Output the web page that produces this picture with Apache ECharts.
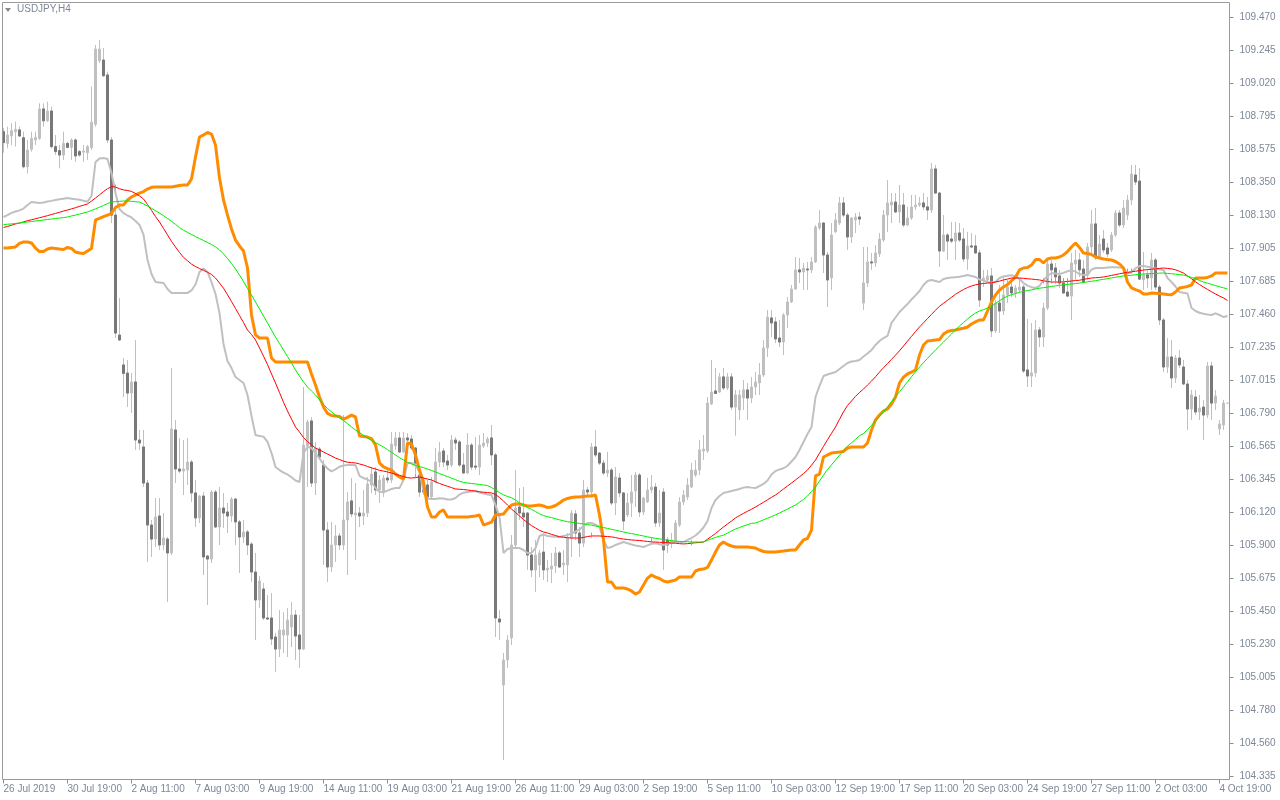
<!DOCTYPE html>
<html><head><meta charset="utf-8">
<script src="https://cdn.jsdelivr.net/npm/echarts@6/dist/echarts.min.js"></script>
<style>html,body{margin:0;padding:0;background:#fff}#c{width:1280px;height:800px}</style>
</head><body><div id="c"></div>
<script>
const symbolName = 'USDJPY,H4';
const xTickLabels = ['26 Jul 2019','30 Jul 19:00','2 Aug 11:00','7 Aug 03:00','9 Aug 19:00','14 Aug 11:00','19 Aug 03:00','21 Aug 19:00','26 Aug 11:00','29 Aug 03:00','2 Sep 19:00','5 Sep 11:00','10 Sep 03:00','12 Sep 19:00','17 Sep 11:00','20 Sep 03:00','24 Sep 19:00','27 Sep 11:00','2 Oct 03:00','4 Oct 19:00'];
const yTickLabels = ['104.335','104.560','104.780','105.005','105.230','105.450','105.675','105.900','106.120','106.345','106.565','106.790','107.015','107.235','107.460','107.685','107.905','108.130','108.350','108.575','108.795','109.020','109.245','109.470'];

const opens = [
108.694,108.615,108.665,108.694,108.706,108.653,108.457,108.575,108.638,108.649,
108.848,108.768,108.834,108.593,108.566,108.536,108.615,108.588,108.638,108.559,
108.555,108.552,108.586,108.744,109.174,109.179,109.078,108.638,108.130,107.318,
107.116,107.061,106.926,107.001,106.608,106.561,106.317,106.033,105.938,106.094,
105.898,105.938,105.844,106.676,106.412,106.398,106.405,106.459,106.250,106.081,
106.229,105.823,105.803,106.256,106.020,106.148,106.121,106.094,106.209,106.054,
105.952,105.986,105.904,105.715,105.526,105.600,105.404,105.404,105.275,105.194,
105.289,105.289,105.343,105.424,105.289,105.194,106.568,106.737,106.317,106.547,
106.439,105.999,105.749,105.898,105.959,105.898,106.067,106.196,106.101,106.114,
106.094,106.114,106.304,106.392,106.270,106.250,106.351,106.338,106.568,106.622,
106.527,106.622,106.615,106.554,106.371,106.304,106.304,106.223,106.324,106.459,
106.534,106.466,106.439,106.608,106.595,106.439,106.385,106.574,106.432,106.425,
106.568,106.588,106.622,106.507,105.397,104.951,105.120,105.269,105.898,106.155,
106.114,106.114,105.830,105.729,105.763,105.850,105.729,105.735,105.756,105.844,
105.763,105.763,105.945,106.108,105.979,105.911,106.270,106.256,106.561,106.520,
106.452,106.385,106.405,106.182,106.351,106.250,106.101,106.182,106.263,106.371,
106.121,106.189,106.270,106.290,106.047,106.256,105.932,105.911,105.918,106.033,
106.189,106.222,106.290,106.371,106.405,106.534,106.534,106.852,106.940,106.933,
107.035,106.960,107.035,106.831,106.811,106.892,106.947,106.892,106.967,106.994,
107.048,107.231,107.434,107.407,107.298,107.271,107.454,107.542,107.630,107.759,
107.745,107.765,107.759,107.813,108.043,108.076,107.860,107.704,108.016,108.076,
108.212,108.130,107.982,108.097,108.117,107.535,107.671,107.813,107.806,107.867,
107.961,108.130,108.198,108.218,108.151,108.198,108.063,108.110,108.185,108.198,
108.212,108.185,108.164,108.442,108.279,107.887,107.995,107.968,107.954,108.009,
107.968,107.833,107.921,107.921,107.874,107.691,107.691,107.718,107.346,107.535,
107.481,107.589,107.643,107.603,107.623,107.643,107.082,107.041,107.062,107.353,
107.305,107.501,107.799,107.772,107.718,107.670,107.609,107.582,107.799,107.826,
107.765,107.725,107.914,108.070,107.846,107.968,107.907,107.894,107.995,108.144,
108.063,108.130,108.232,108.401,108.360,107.691,107.725,107.704,107.826,107.643,
107.420,107.102,107.170,107.028,107.163,107.102,106.987,106.818,106.899,106.798,
106.831,106.777,107.109,106.858,106.683,106.710,106.858];
const highs = [
108.719,108.728,108.751,108.762,108.728,108.694,108.638,108.694,108.694,108.886,
108.886,108.897,108.863,108.672,108.604,108.694,108.626,108.649,108.649,108.570,
108.604,108.604,109.000,109.281,109.314,109.260,109.100,108.658,108.164,107.569,
107.163,107.149,107.061,107.285,106.676,106.676,106.338,106.067,106.216,106.216,
106.114,105.952,107.095,106.744,106.622,106.608,106.622,106.473,106.338,106.236,
106.256,105.830,106.270,106.270,106.290,106.249,106.182,106.222,106.216,106.067,
106.067,105.999,105.918,105.844,105.688,105.641,105.559,105.573,105.302,105.458,
105.444,105.471,105.512,105.458,105.424,106.967,106.744,106.764,106.595,106.561,
106.473,106.054,106.054,106.033,105.979,106.777,106.256,106.351,106.317,106.155,
106.270,106.358,106.425,106.425,106.371,106.371,106.425,106.662,106.662,106.662,
106.662,106.655,106.642,106.561,106.425,106.338,106.338,106.358,106.554,106.595,
106.554,106.507,106.642,106.628,106.608,106.520,106.655,106.588,106.628,106.642,
106.655,106.628,106.710,106.520,105.458,105.167,105.289,105.965,106.405,106.283,
106.290,106.121,105.884,105.932,105.864,105.979,105.796,105.844,105.884,105.857,
105.864,105.979,106.135,106.135,106.020,106.338,106.290,106.588,106.676,106.527,
106.473,106.527,106.419,106.425,106.385,106.256,106.249,106.371,106.392,106.385,
106.222,106.351,106.371,106.317,106.270,106.283,105.952,105.979,106.067,106.222,
106.270,106.351,106.452,106.473,106.608,106.642,106.899,107.150,107.095,107.061,
107.095,107.061,107.061,106.947,106.947,107.014,106.994,107.035,107.068,107.129,
107.285,107.488,107.488,107.440,107.420,107.467,107.576,107.657,107.846,107.840,
107.806,107.813,107.846,108.063,108.164,108.083,107.880,108.076,108.144,108.252,
108.252,108.144,108.117,108.144,108.151,107.914,107.914,107.874,107.927,108.009,
108.164,108.367,108.279,108.279,108.333,108.279,108.185,108.266,108.266,108.252,
108.279,108.252,108.482,108.469,108.286,108.130,108.009,108.083,108.083,108.076,
108.043,108.016,108.009,107.995,107.894,107.759,107.759,107.772,107.555,107.657,
107.711,107.691,107.677,107.657,107.691,107.657,107.427,107.400,107.420,107.373,
107.535,107.826,107.826,107.806,107.759,107.704,107.704,107.874,107.894,107.874,
107.826,107.941,108.164,108.178,107.995,108.029,107.941,108.016,108.164,108.164,
108.232,108.266,108.469,108.469,108.448,107.880,107.759,107.874,107.840,107.657,
107.434,107.298,107.285,107.183,107.217,107.150,107.014,106.947,106.947,106.913,
106.879,107.136,107.136,106.947,106.744,106.879,106.858];
const lows = [
108.552,108.582,108.604,108.593,108.660,108.446,108.412,108.559,108.604,108.638,
108.728,108.760,108.582,108.536,108.446,108.503,108.582,108.503,108.491,108.525,
108.491,108.503,108.570,108.728,109.159,109.064,108.618,108.076,107.298,107.278,
106.899,106.832,106.791,106.541,106.541,106.290,105.783,105.817,105.884,105.864,
105.864,105.512,105.830,106.317,106.385,106.236,106.304,106.189,106.020,106.047,
105.695,105.492,105.776,106.013,105.898,106.013,105.979,106.054,105.898,105.708,
105.911,105.830,105.647,105.255,105.472,105.390,105.390,105.221,105.039,105.140,
105.167,105.140,105.208,105.120,105.066,105.187,106.290,106.290,106.236,106.473,
105.763,105.647,105.715,105.783,105.864,105.864,105.695,106.087,105.796,106.020,
106.033,106.087,106.249,106.236,106.182,106.223,106.317,106.317,106.541,106.520,
106.520,106.574,106.541,106.385,106.223,106.236,106.209,106.202,106.317,106.425,
106.425,106.405,106.425,106.541,106.425,106.378,106.378,106.405,106.405,106.371,
106.554,106.561,106.439,105.275,105.255,104.443,105.066,105.221,105.884,106.067,
106.020,105.729,105.681,105.580,105.681,105.661,105.647,105.640,105.708,105.742,
105.695,105.647,105.817,105.932,105.817,105.884,106.236,106.236,106.493,106.439,
106.371,106.358,106.168,106.101,106.222,105.999,106.087,106.087,106.155,106.087,
106.101,106.182,106.249,106.020,106.020,105.729,105.844,105.877,105.911,106.020,
106.168,106.202,106.283,106.358,106.371,106.473,106.520,106.845,106.919,106.926,
106.947,106.947,106.811,106.637,106.744,106.811,106.744,106.858,106.913,106.913,
107.035,107.170,107.305,107.264,107.237,107.183,107.366,107.535,107.623,107.670,
107.623,107.623,107.738,107.806,108.029,107.738,107.508,107.623,108.009,108.063,
108.117,107.894,107.941,108.009,108.063,107.488,107.644,107.759,107.779,107.846,
107.948,108.016,108.076,108.144,108.076,108.049,108.056,108.097,108.164,108.185,
108.164,108.097,108.144,108.273,107.779,107.880,107.826,107.941,107.826,107.948,
107.813,107.759,107.907,107.867,107.508,107.644,107.670,107.305,107.332,107.332,
107.454,107.535,107.576,107.569,107.609,107.062,106.967,106.967,107.035,107.237,
107.237,107.488,107.691,107.684,107.637,107.596,107.576,107.420,107.691,107.711,
107.670,107.691,107.874,107.826,107.840,107.874,107.846,107.880,107.982,108.049,
108.043,108.097,108.198,108.333,107.691,107.623,107.637,107.623,107.623,107.386,
107.068,107.062,106.960,106.994,107.095,106.980,106.676,106.744,106.777,106.744,
106.608,106.757,106.744,106.811,106.642,106.676,106.858];
const closes = [
108.620,108.672,108.701,108.710,108.665,108.457,108.570,108.649,108.656,108.848,
108.768,108.834,108.593,108.559,108.536,108.615,108.588,108.638,108.530,108.536,
108.563,108.593,108.758,109.253,109.253,109.073,108.638,108.130,107.332,107.285,
107.059,106.926,107.001,106.608,106.588,106.317,106.033,105.938,106.087,105.898,
105.945,105.844,106.683,106.412,106.398,106.412,106.459,106.250,106.081,106.229,
105.817,105.803,106.256,106.020,106.148,106.114,106.094,106.209,106.054,105.952,
105.986,105.898,105.715,105.526,105.654,105.404,105.397,105.262,105.194,105.323,
105.323,105.390,105.424,105.282,105.194,106.574,106.730,106.317,106.554,106.493,
105.999,105.749,105.898,105.959,105.898,106.067,106.189,106.108,106.114,106.094,
106.114,106.311,106.378,106.270,106.338,106.351,106.338,106.581,106.622,106.527,
106.622,106.608,106.554,106.452,106.256,106.256,106.223,106.324,106.459,106.527,
106.459,106.439,106.608,106.588,106.439,106.385,106.574,106.425,106.425,106.574,
106.588,106.615,106.507,105.404,105.377,105.120,105.255,105.898,106.148,106.114,
106.087,105.830,105.729,105.830,105.844,105.729,105.742,105.756,105.844,105.749,
105.776,105.945,106.114,105.979,105.911,106.270,106.256,106.561,106.507,106.452,
106.385,106.405,106.182,106.358,106.250,106.060,106.182,106.256,106.371,106.121,
106.216,106.270,106.290,106.047,106.114,105.864,105.898,105.932,106.047,106.189,
106.236,106.304,106.405,106.405,106.541,106.547,106.858,106.933,106.923,107.035,
106.960,107.035,106.831,106.913,106.913,106.947,106.892,106.967,107.001,107.048,
107.231,107.440,107.400,107.292,107.271,107.454,107.542,107.630,107.759,107.745,
107.772,107.759,107.813,108.049,108.076,107.860,107.691,107.995,108.097,108.212,
108.130,107.982,108.110,108.117,108.103,107.671,107.813,107.806,107.874,107.968,
108.130,108.212,108.218,108.151,108.198,108.063,108.110,108.185,108.198,108.212,
108.185,108.164,108.442,108.279,107.887,107.995,107.954,107.954,108.009,107.961,
107.833,107.921,107.914,107.874,107.555,107.704,107.718,107.346,107.535,107.481,
107.589,107.643,107.603,107.637,107.643,107.075,107.041,107.062,107.353,107.305,
107.501,107.799,107.759,107.711,107.670,107.603,107.582,107.806,107.826,107.759,
107.677,107.914,108.070,107.846,107.934,107.894,107.867,107.995,108.144,108.063,
108.178,108.232,108.408,108.354,107.697,107.725,107.704,107.826,107.643,107.420,
107.102,107.170,107.028,107.163,107.116,106.987,106.818,106.913,106.798,106.825,
106.777,107.109,106.858,106.906,106.717,106.858,106.858];

const redLine = [
108.046,108.053,108.061,108.070,108.076,108.084,108.092,108.098,108.105,108.112,
108.119,108.126,108.134,108.141,108.149,108.157,108.164,108.172,108.180,108.189,
108.197,108.205,108.225,108.245,108.267,108.289,108.308,108.322,108.320,108.308,
108.300,108.296,108.290,108.276,108.259,108.239,108.201,108.162,108.120,108.083,
108.040,107.996,107.952,107.914,107.877,107.844,107.821,107.798,107.782,107.768,
107.756,107.743,107.728,107.704,107.670,107.635,107.591,107.545,107.498,107.450,
107.403,107.352,107.322,107.285,107.231,107.176,107.119,107.055,106.994,106.929,
106.864,106.804,106.750,106.696,106.662,106.625,106.597,106.576,106.554,106.541,
106.527,106.513,106.500,106.486,106.476,106.465,106.458,106.455,106.453,106.446,
106.439,106.429,106.420,106.412,106.403,106.398,106.392,106.385,106.376,106.369,
106.361,106.353,106.351,106.354,106.358,106.351,106.344,106.338,106.325,106.314,
106.304,106.295,106.286,106.277,106.275,106.273,106.270,106.266,106.263,106.258,
106.255,106.253,106.250,106.240,106.219,106.196,106.168,106.141,106.118,106.094,
106.070,106.049,106.029,106.013,105.997,105.986,105.979,105.970,105.962,105.954,
105.950,105.947,105.945,105.945,105.945,105.949,105.955,105.959,105.959,105.959,
105.957,105.955,105.953,105.948,105.942,105.938,105.935,105.932,105.930,105.928,
105.925,105.922,105.919,105.918,105.916,105.915,105.913,105.911,105.910,105.907,
105.905,105.907,105.910,105.913,105.915,105.918,105.937,105.956,105.976,105.998,
106.020,106.040,106.060,106.081,106.097,106.112,106.126,106.140,106.155,106.171,
106.187,106.204,106.220,106.236,106.256,106.277,106.297,106.317,106.338,106.359,
106.381,106.405,106.438,106.473,106.519,106.565,106.610,106.653,106.696,106.748,
106.799,106.842,106.872,106.903,106.930,106.953,106.980,107.007,107.036,107.068,
107.097,107.125,107.154,107.182,107.212,107.244,107.277,107.309,107.342,107.373,
107.401,107.430,107.458,107.486,107.513,107.533,107.553,107.574,107.594,107.611,
107.626,107.640,107.650,107.658,107.664,107.667,107.670,107.672,107.677,107.683,
107.691,107.697,107.704,107.704,107.704,107.702,107.699,107.697,107.694,107.691,
107.685,107.681,107.677,107.677,107.677,107.678,107.681,107.684,107.687,107.689,
107.695,107.700,107.704,107.706,107.708,107.711,107.716,107.722,107.727,107.733,
107.738,107.742,107.746,107.750,107.754,107.758,107.761,107.764,107.766,107.769,
107.772,107.769,107.766,107.760,107.749,107.738,107.719,107.700,107.678,107.660,
107.643,107.627,107.611,107.596,107.582,107.569,107.552];
const greenLine = [
108.065,108.068,108.070,108.073,108.076,108.080,108.083,108.086,108.090,108.093,
108.097,108.100,108.103,108.107,108.110,108.113,108.117,108.124,108.130,108.137,
108.144,108.151,108.161,108.172,108.183,108.195,108.208,108.218,108.221,108.223,
108.225,108.225,108.223,108.220,108.218,108.205,108.191,108.176,108.159,108.143,
108.126,108.107,108.088,108.067,108.045,108.027,108.013,107.998,107.985,107.971,
107.958,107.944,107.931,107.915,107.894,107.867,107.836,107.802,107.765,107.724,
107.681,107.633,107.589,107.542,107.495,107.447,107.400,107.352,107.305,107.261,
107.217,107.173,107.129,107.082,107.041,107.001,106.967,106.940,106.913,106.880,
106.848,106.821,106.799,106.777,106.758,106.740,106.719,106.697,106.676,106.658,
106.640,106.622,106.605,106.590,106.576,106.561,106.543,106.525,106.507,106.489,
106.473,106.457,106.446,106.436,106.428,106.421,106.412,106.402,106.392,106.381,
106.371,106.361,106.350,106.340,106.329,106.321,106.317,106.314,106.311,106.307,
106.304,106.300,106.287,106.270,106.253,106.237,106.226,106.218,106.202,106.183,
106.168,106.152,106.139,106.124,106.109,106.097,106.089,106.083,106.075,106.068,
106.062,106.055,106.052,106.048,106.044,106.040,106.036,106.032,106.026,106.021,
106.016,106.010,106.004,105.998,105.992,105.986,105.980,105.975,105.970,105.964,
105.959,105.953,105.948,105.943,105.939,105.935,105.931,105.927,105.924,105.922,
105.921,105.920,105.918,105.918,105.918,105.918,105.929,105.940,105.949,105.957,
105.965,105.978,105.993,106.006,106.016,106.026,106.035,106.044,106.047,106.057,
106.068,106.079,106.090,106.101,106.114,106.128,106.141,106.155,106.168,106.187,
106.206,106.229,106.260,106.290,106.331,106.371,106.408,106.440,106.473,106.505,
106.538,106.567,106.589,106.613,106.637,106.652,106.678,106.708,106.737,106.768,
106.800,106.833,106.868,106.902,106.934,106.968,107.002,107.036,107.070,107.102,
107.132,107.160,107.189,107.217,107.244,107.271,107.298,107.325,107.353,107.380,
107.403,107.427,107.449,107.467,107.481,107.490,107.500,107.512,107.532,107.551,
107.568,107.581,107.591,107.599,107.607,107.614,107.619,107.624,107.630,107.635,
107.639,107.643,107.647,107.651,107.655,107.658,107.661,107.664,107.666,107.670,
107.674,107.678,107.682,107.686,107.691,107.695,107.700,107.705,107.709,107.714,
107.718,107.720,107.723,107.726,107.729,107.731,107.733,107.734,107.735,107.737,
107.738,107.735,107.733,107.730,107.727,107.724,107.716,107.708,107.699,107.688,
107.677,107.669,107.661,107.653,107.645,107.638,107.630];
const grayLine = [
108.117,108.130,108.145,108.154,108.162,108.174,108.198,108.218,108.215,108.212,
108.215,108.222,108.226,108.232,108.237,108.241,108.245,108.241,108.237,108.233,
108.227,108.220,108.259,108.489,108.513,108.516,108.509,108.415,108.279,108.171,
108.143,108.127,108.114,108.090,108.063,107.998,107.826,107.731,107.677,107.674,
107.670,107.630,107.603,107.603,107.603,107.603,107.603,107.620,107.660,107.745,
107.768,107.745,107.677,107.596,107.467,107.258,107.143,107.095,107.034,107.014,
106.994,106.913,106.771,106.642,106.635,106.631,106.595,106.520,106.426,106.405,
106.388,106.375,106.356,106.334,106.324,106.520,106.561,106.554,106.520,106.482,
106.444,106.415,106.396,106.409,106.427,106.436,106.439,106.439,106.439,106.365,
106.351,106.341,106.324,106.283,106.256,106.256,106.266,106.277,106.283,106.283,
106.338,106.453,106.453,106.439,106.392,106.263,106.212,106.209,106.209,106.214,
106.212,106.206,106.206,106.216,106.239,106.252,106.256,106.259,106.263,106.253,
106.246,106.240,106.236,106.168,106.087,105.844,105.871,105.877,105.877,105.877,
105.864,105.844,105.844,105.877,105.959,105.969,105.959,105.956,105.953,105.952,
105.959,105.965,105.976,105.989,106.003,106.026,106.047,106.047,106.036,106.020,
105.932,105.877,105.884,105.898,105.908,105.918,105.910,105.901,105.895,105.890,
105.884,105.895,105.906,105.909,105.903,105.898,105.906,105.914,105.918,105.918,
105.918,105.932,105.945,105.962,105.986,106.016,106.060,106.148,106.202,106.229,
106.250,106.256,106.263,106.270,106.277,106.286,106.290,106.286,106.283,106.297,
106.311,106.334,106.375,106.398,106.409,106.417,106.434,106.463,106.493,106.541,
106.595,106.649,106.696,106.899,106.974,107.041,107.051,107.060,107.068,107.089,
107.109,107.129,107.139,107.143,107.150,107.173,107.193,107.217,107.251,107.278,
107.298,107.312,107.400,107.437,107.474,107.501,107.528,107.559,107.587,107.616,
107.657,107.684,107.691,107.684,107.677,107.697,107.704,107.707,107.710,107.712,
107.718,107.724,107.718,107.711,107.694,107.687,107.677,107.673,107.677,107.704,
107.715,107.720,107.723,107.715,107.697,107.670,107.653,107.642,107.637,107.650,
107.691,107.718,107.738,107.735,107.731,107.739,107.750,107.756,107.748,107.731,
107.724,107.724,107.762,107.772,107.772,107.772,107.775,107.777,107.777,107.775,
107.772,107.735,107.745,107.769,107.785,107.785,107.780,107.775,107.769,107.764,
107.758,107.704,107.677,107.647,107.609,107.605,107.599,107.501,107.481,107.469,
107.463,107.458,107.454,107.465,107.454,107.440,107.447];
const orangeLine = [
107.907,107.907,107.911,107.914,107.938,107.948,107.948,107.941,107.907,107.883,
107.883,107.900,107.907,107.904,107.900,107.897,107.911,107.904,107.880,107.873,
107.870,107.887,107.904,108.097,108.107,108.120,108.130,108.141,108.181,108.198,
108.198,108.232,108.252,108.266,108.279,108.289,108.306,108.318,108.320,108.320,
108.320,108.320,108.320,108.325,108.330,108.333,108.333,108.374,108.523,108.658,
108.672,108.689,108.678,108.604,108.381,108.232,108.130,108.036,107.961,107.921,
107.887,107.772,107.454,107.319,107.298,107.298,107.298,107.163,107.136,107.136,
107.136,107.136,107.136,107.136,107.136,107.136,107.136,107.055,106.980,106.899,
106.832,106.788,106.774,106.771,106.767,106.750,106.761,106.777,106.764,106.635,
106.632,106.628,106.618,106.574,106.453,106.426,106.415,106.405,106.378,106.358,
106.344,106.588,106.581,106.507,106.405,106.324,106.155,106.087,106.087,106.121,
106.135,106.087,106.087,106.087,106.087,106.087,106.087,106.091,106.094,106.101,
106.033,106.043,106.053,106.101,106.104,106.108,106.141,106.168,106.175,106.175,
106.168,106.162,106.162,106.165,106.168,106.162,106.151,106.155,106.165,106.182,
106.202,106.213,106.219,106.223,106.223,106.226,106.229,106.229,106.236,106.101,
105.932,105.647,105.647,105.607,105.607,105.607,105.600,105.587,105.566,105.580,
105.627,105.674,105.695,105.681,105.671,105.654,105.647,105.654,105.661,105.681,
105.681,105.681,105.681,105.722,105.732,105.735,105.746,105.796,105.850,105.898,
105.918,105.901,105.891,105.884,105.884,105.884,105.884,105.881,105.877,105.864,
105.854,105.850,105.850,105.850,105.854,105.857,105.861,105.864,105.864,105.898,
105.932,105.942,105.999,106.365,106.378,106.493,106.507,106.520,106.524,106.527,
106.531,106.554,106.561,106.561,106.561,106.561,106.588,106.676,106.744,106.777,
106.804,106.818,106.852,106.899,106.994,107.034,107.055,107.068,107.082,107.183,
107.251,107.278,107.281,107.285,107.288,107.325,107.342,107.349,107.353,107.359,
107.364,107.373,107.393,107.407,107.420,107.420,107.481,107.542,107.589,107.623,
107.643,107.660,107.684,107.711,107.759,107.772,107.775,107.792,107.829,107.829,
107.806,107.833,107.840,107.840,107.846,107.860,107.883,107.914,107.941,107.911,
107.873,107.870,107.863,107.846,107.840,107.833,107.829,107.826,107.816,107.799,
107.772,107.677,107.637,107.626,107.616,107.596,107.596,107.603,107.601,107.599,
107.596,107.592,107.591,107.609,107.637,107.641,107.647,107.657,107.704,107.704,
107.704,107.708,107.718,107.738,107.738,107.738,107.738];
const crossMarks = [[28,108.320],[103,106.365],[147,105.966],[162,105.932],[172,105.911],
[260,107.684],[261,107.684],[262,107.684],[263,107.684],[264,107.684],[265,107.684],[266,107.684],
[281,107.752],[282,107.752]];

const Y_MIN = Number(yTickLabels[0]);
const Y_MAX = Number(yTickLabels[yTickLabels.length - 1]);
const Y_STEP = (Y_MAX - Y_MIN) / (yTickLabels.length - 1);
const yTickValues = yTickLabels.map((_, k) => Y_MIN + k * Y_STEP);
const N = opens.length;
const cats = opens.map((_, i) => String(i));
const fullCandles = opens.map((o, i) => [o, closes[i], lows[i], highs[i]]);
const bearBodies = opens.map((o, i) => o > closes[i] ? [o, closes[i], closes[i], o] : '-');

const TEXT = '#7d8797';
const FONT = 'Liberation Sans, Arial, sans-serif';
const chart = echarts.init(document.getElementById('c'), null, {renderer: 'canvas'});
chart.setOption({
  animation: false,
  backgroundColor: '#ffffff',
  grid: {left: 1.5, width: N * 4, top: 17, height: 759, containLabel: false},
  xAxis: {
    type: 'category', data: cats, boundaryGap: true, offset: 3.5,
    axisLine: {show: false},
    axisTick: {show: true, alignWithLabel: true, interval: (i) => i % 16 === 0, length: 4, lineStyle: {color: '#8c8c8c'}},
    axisLabel: {interval: (i) => i % 16 === 0, formatter: (v, i) => xTickLabels[i / 16] || '', align: 'left', margin: 5,
      color: TEXT, fontSize: 10, fontFamily: FONT},
    splitLine: {show: false}
  },
  yAxis: {
    type: 'value', position: 'right', min: Y_MIN, max: Y_MAX, scale: true,
    axisLine: {show: false},
    axisTick: {show: true, customValues: yTickValues, length: 4, lineStyle: {color: '#8c8c8c'}},
    axisLabel: {customValues: yTickValues, margin: 10, color: TEXT, fontSize: 10, fontFamily: FONT,
      formatter: (v) => yTickLabels[Math.round((v - Y_MIN) / Y_STEP)] || ''},
    splitLine: {show: false}
  },
  series: [
    {type: 'candlestick', name: 'wicks', data: fullCandles, barWidth: 2, z: 2,
      itemStyle: {color: '#c0c0c0', color0: '#c0c0c0', borderColor: '#c0c0c0', borderColor0: '#c0c0c0', borderColorDoji: '#c0c0c0', borderWidth: 1}},
    {type: 'candlestick', name: 'bear', data: bearBodies, barWidth: 2, z: 3,
      itemStyle: {color: '#787878', color0: '#787878', borderColor: '#787878', borderColor0: '#787878', borderWidth: 1}},
    {type: 'line', name: 'gray', data: grayLine, symbol: 'none', z: 4, lineStyle: {color: '#c0c0c0', width: 2}},
    {type: 'line', name: 'orange', data: orangeLine, symbol: 'none', z: 5, lineStyle: {color: '#ff8c00', width: 3}},
    {type: 'line', name: 'red', data: redLine, symbol: 'none', z: 6, lineStyle: {color: '#ff0000', width: 1}},
    {type: 'line', name: 'green', data: greenLine, symbol: 'none', z: 7, lineStyle: {color: '#00ee00', width: 1}},
    {type: 'scatter', name: 'marks', data: crossMarks, symbol: 'rect', symbolSize: [1, 5], z: 8, itemStyle: {color: '#3aa8e8'}}
  ],
  graphic: [
    {type: 'rect', shape: {x: 2.5, y: 2.5, width: 1227, height: 777}, style: {fill: 'none', stroke: '#9a9a9a', lineWidth: 1}, z: 10, silent: true},
    {type: 'polygon', shape: {points: [[5, 8], [11, 8], [8, 12]]}, style: {fill: '#8a8a8a'}, z: 10},
    {type: 'text', x: 17, y: 4, style: {text: symbolName, fill: TEXT, font: '10px ' + FONT}, z: 10}
  ]
});
</script>
</body></html>
